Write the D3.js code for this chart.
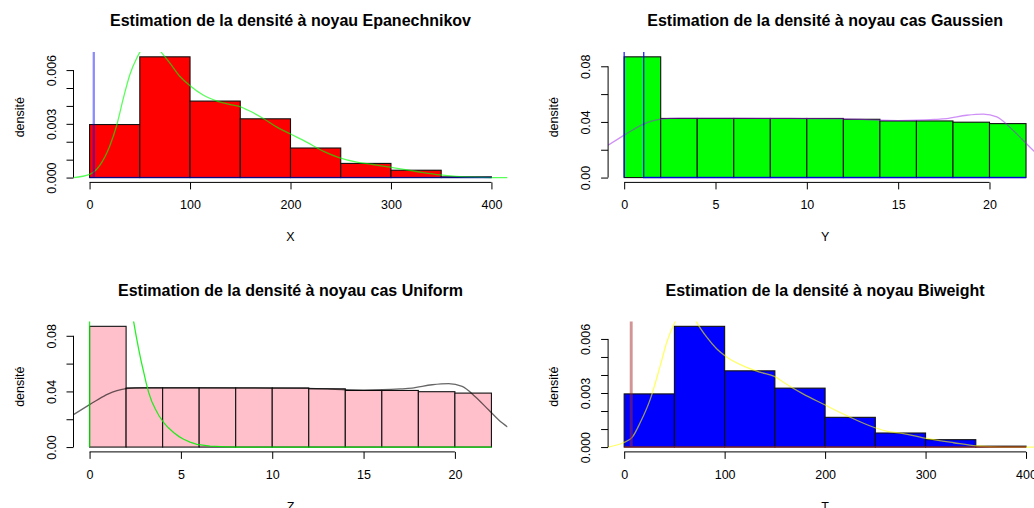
<!DOCTYPE html>
<html>
<head>
<meta charset="utf-8">
<script src="https://cdn.jsdelivr.net/npm/d3@7"></script>
<style>
  body { margin: 0; background: #fff; }
  svg { display: block; }
  text { font-family: "Liberation Sans", Arial, Helvetica, sans-serif; fill: #000; }
</style>
</head>
<body>
<svg width="1034" height="508"></svg>
<script>
// ---- histogram breaks ----
const breaksX = [0, 50, 100, 150, 200, 250, 300, 350, 400];
const breaksY = [0, 2, 4, 6, 8, 10, 12, 14, 16, 18, 20, 22];
const breaksZ = [0, 2, 4, 6, 8, 10, 12, 14, 16, 18, 20, 22];
const breaksT = [0, 50, 100, 150, 200, 250, 300, 350, 400];

// ---- histogram densities ----
const densX = [0.00296, 0.00674, 0.00427, 0.00328, 0.00165, 0.00079, 0.00041, 0.00004];
const densY = [0.0868, 0.0425, 0.0425, 0.0425, 0.0425, 0.0425, 0.0419, 0.0407, 0.0407, 0.0398, 0.0388];
const densZ = [0.0868, 0.0425, 0.0425, 0.0425, 0.0425, 0.0425, 0.0419, 0.0407, 0.0407, 0.0398, 0.0388];
const densT = [0.00295, 0.00670, 0.00423, 0.00327, 0.00165, 0.00078, 0.00041, 0.00005];

// ---- kernel density curves [x, density] ----
const epanX = [[-16, 0], [0, 0.00018], [10, 0.00067], [20, 0.00175], [27, 0.00292], [33.6, 0.00442],
  [40, 0.00573], [47, 0.00667], [55, 0.0074], [60, 0.00755], [65, 0.0074], [72, 0.00695],
  [80, 0.00639], [90, 0.00564], [100, 0.00513], [113, 0.00461], [127, 0.00427], [143, 0.00404],
  [150, 0.00395], [160, 0.0037], [173, 0.0033], [186, 0.00283], [200, 0.00243], [216, 0.00198],
  [233, 0.00146], [249, 0.0011], [266, 0.00086], [282, 0.00073], [299, 0.00058], [316, 0.00043],
  [332, 0.00028], [349, 0.00015], [365, 0.00007], [382, 0.00002], [400, 0], [416, 0]];
const spikeX = [[0, 0], [3.8, 0], [4.2, 0.06], [4.6, 0], [400, 0]];

const gaussY = [[-0.88, 0.0233], [0, 0.0305], [0.5, 0.0345], [1, 0.038], [1.5, 0.0405], [2, 0.042],
  [3, 0.0427], [6, 0.0427], [9, 0.0425], [12, 0.0422], [13, 0.0418], [14, 0.0412], [15, 0.041],
  [16, 0.0412], [17, 0.0418], [17.65, 0.0424], [18.75, 0.0448], [19.66, 0.0456], [20.4, 0.0436],
  [21.1, 0.0364], [21.84, 0.0268], [22.4, 0.0195], [22.88, 0.0145]];
const unifY = [[0, 0], [0, 0.93], [1.07, 0.93], [1.07, 0], [22, 0]];

const gaussZ = gaussY.map(d => d.slice());
const unifZ = [[0, 0], [0, 0.4], [2.3, 0.1], [2.41, 0.0904], [2.55, 0.08], [2.68, 0.071], [2.82, 0.062],
  [2.96, 0.054], [3.1, 0.046], [3.23, 0.0395], [3.4, 0.033], [3.6, 0.0274], [3.8, 0.0225],
  [4.05, 0.0177], [4.3, 0.014], [4.6, 0.0104], [4.9, 0.0075], [5.15, 0.0056], [5.5, 0.0035],
  [5.88, 0.002], [6.6, 0.0007], [7.5, 0.0002], [8, 0], [22, 0]];

const biwT = [[-16, 0], [-1, 0.00024], [7.7, 0.00052], [16, 0.00136], [26, 0.00266], [36, 0.00453],
  [42.5, 0.00583], [50.7, 0.00695], [56, 0.0075], [62, 0.0077], [67, 0.0075], [72, 0.00695],
  [82, 0.00611], [92, 0.00546], [102, 0.005], [119, 0.00449], [135, 0.00416], [150, 0.00391],
  [158.5, 0.0036], [178, 0.00295], [198, 0.00239], [222, 0.00173], [245, 0.00117], [261, 0.00089],
  [278, 0.00075], [301, 0.00048], [328, 0.00024], [351, 0.00006], [377, 0], [416, 0]];
const spikeT = [[0, 0], [6.5, 0], [7, 0.06], [7.5, 0], [400, 0]];

// ---- ticks ----
const xTicks400 = [0, 100, 200, 300, 400];
const xTicks20 = [0, 5, 10, 15, 20];
const yTicksSmall = [0, 0.001, 0.002, 0.003, 0.004, 0.005, 0.006];
const yLabelsSmall = ["0.000", "", "", "0.003", "", "", "0.006"];
const yTicksBig = [0, 0.02, 0.04, 0.06, 0.08];
const yLabelsBig = ["0.00", "", "0.04", "", "0.08"];

const titles = [
  "Estimation de la densité à noyau Epanechnikov",
  "Estimation de la densité à noyau cas Gaussien",
  "Estimation de la densité à noyau cas Uniform",
  "Estimation de la densité à noyau Biweight"
];
const xNames = ["X", "Y", "Z", "T"];

const panels = [
  { breaks: breaksX, dens: densX, fill: "#ff0000", xTicks: xTicks400, yTicks: yTicksSmall, yLabels: yLabelsSmall,
    curves: [{ pts: epanX, color: "#00ff00", op: 0.65, w: 1.3, smooth: true },
             { pts: spikeX, color: "#0000ff", op: 0.45, w: 1.6 }] },
  { breaks: breaksY, dens: densY, fill: "#00ff00", xTicks: xTicks20, yTicks: yTicksBig, yLabels: yLabelsBig,
    curves: [{ pts: gaussY, color: "#a020f0", op: 0.5, w: 1.3, smooth: true },
             { pts: unifY, color: "#0000ff", op: 0.8, w: 1.4 }] },
  { breaks: breaksZ, dens: densZ, fill: "#ffc0cb", xTicks: xTicks20, yTicks: yTicksBig, yLabels: yLabelsBig,
    curves: [{ pts: gaussZ, color: "#000000", op: 0.6, w: 1.3, smooth: true },
             { pts: unifZ, color: "#00ee00", op: 0.85, w: 1.3 }] },
  { breaks: breaksT, dens: densT, fill: "#0000ff", xTicks: xTicks400, yTicks: yTicksSmall, yLabels: yLabelsSmall,
    curves: [{ pts: biwT, color: "#ffff00", op: 0.6, w: 1.3, smooth: true },
             { pts: spikeT, color: "#a52a2a", op: 0.5, w: 2 }] }
];

const svg = d3.select("svg");
const plotW = 434, plotH = 130.4;

panels.forEach((p, i) => {
  const col = i % 2, row = Math.floor(i / 2);
  const left = 73.5 + col * 534.6;
  const top = 52 + row * 269.5;

  // R style: 4% extension of data range
  const x0 = p.breaks[0], x1 = p.breaks[p.breaks.length - 1];
  const xpad = (x1 - x0) * 0.04;
  const x = d3.scaleLinear().domain([x0 - xpad, x1 + xpad]).range([left, left + plotW]);
  const ymax = d3.max(p.dens);
  const y = d3.scaleLinear().domain([-ymax * 0.04, ymax * 1.04]).range([top + plotH, top]);

  const g = svg.append("g");
  const clipId = "clip" + i;
  g.append("clipPath").attr("id", clipId)
    .append("rect").attr("x", left).attr("y", top).attr("width", plotW).attr("height", plotH);

  // bars
  g.append("g").selectAll("rect")
    .data(p.dens)
    .join("rect")
    .attr("x", (d, j) => x(p.breaks[j]))
    .attr("y", d => y(d))
    .attr("width", (d, j) => x(p.breaks[j + 1]) - x(p.breaks[j]))
    .attr("height", d => y(0) - y(d))
    .attr("fill", p.fill)
    .attr("stroke", "#111")
    .attr("stroke-width", 1.1);

  // density curves
  const cg = g.append("g").attr("clip-path", `url(#${clipId})`);
  p.curves.forEach(c => {
    const line = d3.line().x(d => x(d[0])).y(d => y(d[1]))
      .curve(c.smooth ? d3.curveMonotoneX : d3.curveLinear);
    cg.append("path")
      .attr("d", line(c.pts))
      .attr("fill", "none")
      .attr("stroke", c.color)
      .attr("stroke-opacity", c.op)
      .attr("stroke-width", c.w);
  });

  // x axis
  const gx = g.append("g")
    .attr("transform", `translate(0,${top + plotH})`)
    .call(d3.axisBottom(x).tickValues(p.xTicks).tickSize(7).tickSizeOuter(0));
  gx.select(".domain").remove();
  gx.append("line")
    .attr("x1", x(p.xTicks[0])).attr("x2", x(p.xTicks[p.xTicks.length - 1]))
    .attr("stroke", "#000");
  gx.selectAll("text").attr("y", 27).attr("dy", null)
    .style("font-size", "12.5px");

  // y axis
  const gy = g.append("g")
    .attr("transform", `translate(${left},0)`)
    .call(d3.axisLeft(y).tickValues(p.yTicks).tickSize(7).tickSizeOuter(0)
      .tickFormat((d, j) => p.yLabels[j]));
  gy.select(".domain").remove();
  gy.append("line")
    .attr("y1", y(p.yTicks[0])).attr("y2", y(p.yTicks[p.yTicks.length - 1]))
    .attr("stroke", "#000");
  gy.selectAll("text")
    .attr("x", null).attr("dy", null)
    .attr("transform", "translate(-18,0) rotate(-90)")
    .attr("text-anchor", "middle")
    .style("font-size", "12.5px");

  // title
  g.append("text")
    .attr("x", left + plotW / 2)
    .attr("y", top - 26)
    .attr("text-anchor", "middle")
    .style("font-size", "16px")
    .style("font-weight", "bold")
    .text(titles[i]);

  // axis names
  g.append("text")
    .attr("x", left + plotW / 2)
    .attr("y", top + plotH + 59)
    .attr("text-anchor", "middle")
    .style("font-size", "12.5px")
    .text(xNames[i]);

  g.append("text")
    .attr("transform", `translate(${left - 50},${top + plotH / 2}) rotate(-90)`)
    .attr("text-anchor", "middle")
    .style("font-size", "12.5px")
    .text("densité");
});
</script>
</body>
</html>
